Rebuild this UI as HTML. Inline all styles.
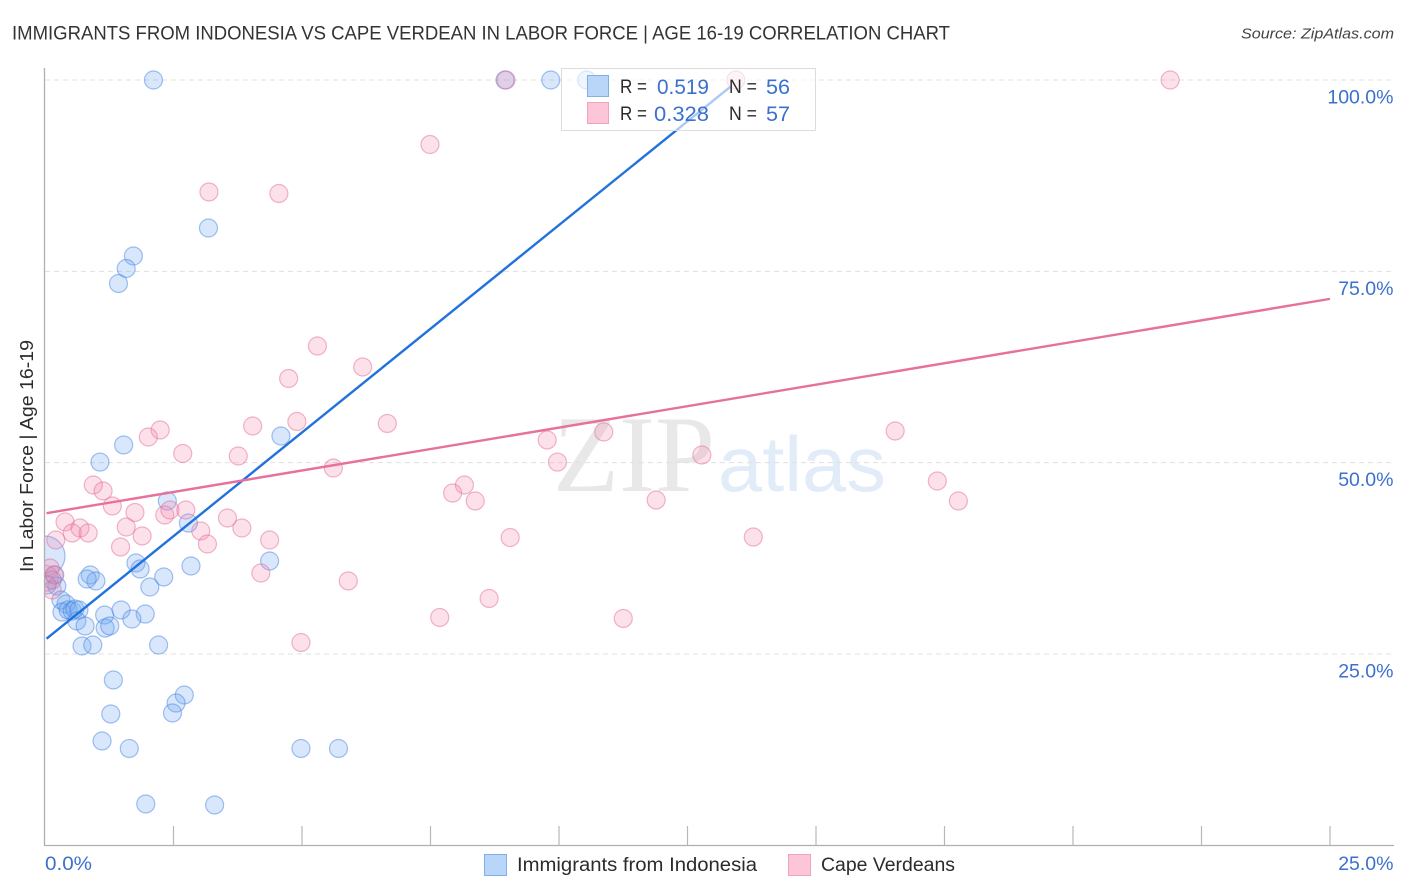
<!DOCTYPE html>
<html>
<head>
<meta charset="utf-8">
<title>Immigrants from Indonesia vs Cape Verdean in Labor Force</title>
<style>
html,body{margin:0;padding:0;background:#fff;width:1406px;height:892px;overflow:hidden}
svg{display:block;font-family:"Liberation Sans",sans-serif}
</style>
</head>
<body>
<svg id="chart" xmlns="http://www.w3.org/2000/svg" width="1406" height="892" viewBox="0 0 1406 892">
  <defs>
    <clipPath id="plot-clip"><rect x="45" y="60" width="1349" height="785"/></clipPath>
  </defs>
  <rect x="0" y="0" width="1406" height="892" fill="#fff"/>
  <text x="12" y="39.5" font-size="19.5" fill="#333" textLength="938" lengthAdjust="spacingAndGlyphs">IMMIGRANTS FROM INDONESIA VS CAPE VERDEAN IN LABOR FORCE | AGE 16-19 CORRELATION CHART</text>
  <text x="1241" y="38.5" font-size="15" font-style="italic" fill="#444" textLength="153" lengthAdjust="spacingAndGlyphs">Source: ZipAtlas.com</text>

  <g>
    <text x="553" y="491" font-family="'Liberation Serif',serif" font-size="109" fill="#e8e8e8" textLength="162" lengthAdjust="spacingAndGlyphs">ZIP</text>
    <text x="718" y="491" font-size="78" fill="#e2ecf9" textLength="168" lengthAdjust="spacingAndGlyphs">atlas</text>
  </g>

  <g id="grid"></g>
  <g id="axes"></g>
  <g id="series-a" clip-path="url(#plot-clip)"></g>
  <g id="series-b" clip-path="url(#plot-clip)"></g>
  <g id="trends"></g>

  <text transform="translate(33 572) rotate(-90)" font-size="18.5" fill="#2b2b2b" textLength="232" lengthAdjust="spacingAndGlyphs">In Labor Force | Age 16-19</text>

  <g>
    <rect x="561.5" y="68.5" width="254" height="62" fill="#fff" fill-opacity="0.62" stroke="#dcdcdc" stroke-width="1"/>
    <rect x="587.5" y="75.5" width="21" height="21" fill="#b9d5f8" stroke="#7fb0ea"/>
    <rect x="587.5" y="102.5" width="21" height="21" fill="#fcc6d8" stroke="#f0a3bd"/>
    <g font-size="19.5" fill="#2b2b2b">
      <text x="620" y="93" textLength="27" lengthAdjust="spacingAndGlyphs">R =</text>
      <text x="620" y="120" textLength="27" lengthAdjust="spacingAndGlyphs">R =</text>
      <text x="729" y="93" textLength="28" lengthAdjust="spacingAndGlyphs">N =</text>
      <text x="729" y="120" textLength="28" lengthAdjust="spacingAndGlyphs">N =</text>
    </g>
    <g font-size="21" fill="#3b70cf">
      <text x="657" y="94" textLength="52" lengthAdjust="spacingAndGlyphs">0.519</text>
      <text x="654" y="121" textLength="55" lengthAdjust="spacingAndGlyphs">0.328</text>
      <text x="766" y="94" textLength="24" lengthAdjust="spacingAndGlyphs">56</text>
      <text x="766" y="121" textLength="24" lengthAdjust="spacingAndGlyphs">57</text>
    </g>
  </g>

  <g>
    <rect x="484.5" y="854.5" width="22" height="21" fill="#b9d5f8" stroke="#7fb0ea"/>
    <text x="517" y="871" font-size="19" fill="#2b2b2b" textLength="240" lengthAdjust="spacingAndGlyphs">Immigrants from Indonesia</text>
    <rect x="788.5" y="854.5" width="22" height="21" fill="#fcc6d8" stroke="#f0a3bd"/>
    <text x="821" y="871" font-size="19" fill="#2b2b2b" textLength="134" lengthAdjust="spacingAndGlyphs">Cape Verdeans</text>
  </g>
</svg>
<script>
const xTickValues = [0, 2.5, 5, 7.5, 10, 12.5, 15, 17.5, 20, 22.5, 25];
const yTickValues = [100, 75, 50, 25];
const yTickLabels = ['100.0%', '75.0%', '50.0%', '25.0%'];
const xEndLabels = ['0.0%', '25.0%'];

const indonesiaX = [2.11,8.95,9.84,10.54,3.18,1.72,1.58,1.43,4.59,1.53,1.07,2.38,2.79,4.37,1.77,1.85,2.84,2.31,2.04,0.88,0.99,0.82,0.18,0.14,0.23,0.04,0.31,0.41,0.33,0.45,0.53,0.58,0.66,0.62,0.78,1.16,1.48,1.95,1.69,1.17,1.26,0.72,0.93,2.21,1.33,2.71,2.55,2.48,1.28,1.11,1.64,4.98,5.71,1.96,3.30];
const indonesiaY = [100,100,100,100,80.66,77.0,75.37,73.41,53.48,52.31,50.08,44.99,42.11,37.15,36.89,36.1,36.5,35.06,33.75,35.32,34.54,34.8,35.32,34.67,33.88,34.01,32.05,31.53,30.48,30.75,30.62,30.88,30.75,29.31,28.66,30.09,30.75,30.22,29.57,28.39,28.66,26.04,26.17,26.17,21.6,19.64,18.59,17.29,17.16,13.63,12.65,12.65,12.65,5.4,5.27];
const indonesiaBigX = [0.0];
const indonesiaBigY = [37.8];

const capeX = [8.97,13.44,21.89,7.49,3.19,4.55,5.30,6.18,4.74,4.90,4.04,6.66,2.24,2.01,2.68,3.76,5.61,9.77,10.87,9.97,12.78,16.54,17.36,17.77,11.89,8.16,7.93,8.37,0.94,1.13,1.31,1.75,2.33,2.43,2.74,3.55,0.39,0.68,0.53,0.84,1.58,3.03,1.89,3.83,1.47,3.16,4.37,0.21,9.05,13.78,4.20,5.90,8.64,7.68,11.25,4.98,0.10,0.19,0.14];
const capeY = [100,100,100,91.57,85.37,85.17,65.24,62.5,61.0,55.38,54.79,55.12,54.27,53.35,51.2,50.87,49.3,52.96,54.01,50.08,51.0,54.14,47.6,44.99,45.12,47.08,46.03,44.99,47.08,46.3,44.34,43.49,43.16,43.81,43.81,42.77,42.25,41.46,40.81,40.81,41.59,41.07,40.42,41.46,38.98,39.37,39.89,39.89,40.22,40.28,35.58,34.54,32.25,29.77,29.64,26.5,36.23,35.32,33.36];
const capeBigX = [0.0];
const capeBigY = [34.9];

const indonesiaTrendX = [0.03, 13.33];
const indonesiaTrendY = [27.0, 99.1];
const capeTrendX = [0.03, 25];
const capeTrendY = [43.4, 71.4];

const SVGNS = 'http://www.w3.org/2000/svg';
function xScale(v) { return 45 + v * 51.4; }
function yScale(v) { return 80 + (100 - v) * 7.653; }
function make(tag, attrs, parent) {
  const el = document.createElementNS(SVGNS, tag);
  for (const k in attrs) el.setAttribute(k, attrs[k]);
  parent.appendChild(el);
  return el;
}

const gridG = document.getElementById('grid');
const axesG = document.getElementById('axes');
yTickValues.forEach(function (v, i) {
  const y = yScale(v);
  const line = make('line', { x1: 45, x2: 1393, y1: y, y2: y, stroke: '#e0e0e0', 'stroke-width': 1, 'stroke-dasharray': '5 4' }, gridG);
  
  
  const label = make('text', { x: 1393.5, y: y + 23.5, 'text-anchor': 'end', 'font-size': 19.5, fill: '#3b70cf' }, axesG);
  label.textContent = yTickLabels[i];
  
  
});

const yAxis = make('line', { x1: 44.5, x2: 44.5, y1: 68, y2: 846, stroke: '#b0b0b0', 'stroke-width': 1.3 }, axesG);


const xAxis = make('line', { x1: 44, x2: 1394, y1: 845.5, y2: 845.5, stroke: '#b0b0b0', 'stroke-width': 1.3 }, axesG);



xTickValues.forEach(function (v) {
  if (v === 0) return;
  const x = xScale(v);
  const tick = make('line', { x1: x, x2: x, y1: 826, y2: 845, stroke: '#b8b8b8', 'stroke-width': 1.2 }, axesG);
  
  
});

const xLabelLeft = make('text', { x: 45, y: 870, 'font-size': 19.5, fill: '#3b70cf', textLength: 47, lengthAdjust: 'spacingAndGlyphs' }, axesG);
xLabelLeft.textContent = xEndLabels[0];


const xLabelRight = make('text', { x: 1393.5, y: 870, 'text-anchor': 'end', 'font-size': 19.5, fill: '#3b70cf' }, axesG);
xLabelRight.textContent = xEndLabels[1];



const blueStyle = { fill: 'rgba(110,165,240,0.27)', stroke: 'rgba(62,128,226,0.48)', 'stroke-width': 1.2 };
const pinkStyle = { fill: 'rgba(246,135,172,0.25)', stroke: 'rgba(226,110,150,0.5)', 'stroke-width': 1.2 };

function drawPoints(parent, xs, ys, r, style, name) {
  xs.forEach(function (xv, i) {
    const c = make('circle', Object.assign({ cx: xScale(xv), cy: yScale(ys[i]), r: r }, style), parent);
    
    
  });
}
const groupA = document.getElementById('series-a');
const groupB = document.getElementById('series-b');
drawPoints(groupA, indonesiaBigX, indonesiaBigY, 20, blueStyle, 'indonesia-cluster-point');
drawPoints(groupB, capeBigX, capeBigY, 13, pinkStyle, 'cape-verdean-cluster-point');
drawPoints(groupA, indonesiaX, indonesiaY, 9, blueStyle, 'indonesia-point');
drawPoints(groupB, capeX, capeY, 9, pinkStyle, 'cape-verdean-point');

const trendG = document.getElementById('trends');
const blueTrend = make('line', { x1: xScale(indonesiaTrendX[0]), y1: yScale(indonesiaTrendY[0]), x2: xScale(indonesiaTrendX[1]), y2: yScale(indonesiaTrendY[1]), stroke: '#2272dc', 'stroke-width': 2.4 }, trendG);


const pinkTrend = make('line', { x1: xScale(capeTrendX[0]), y1: yScale(capeTrendY[0]), x2: xScale(capeTrendX[1]), y2: yScale(capeTrendY[1]), stroke: '#e8709c', 'stroke-width': 2.4 }, trendG);


</script>
</body>
</html>
